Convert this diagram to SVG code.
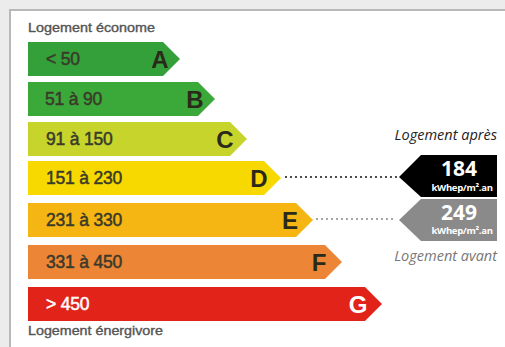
<svg xmlns="http://www.w3.org/2000/svg" width="505" height="347" viewBox="0 0 505 347">
<defs>
<style>
.lbl{font-family:"Liberation Sans",Arial,sans-serif;font-size:17.5px;fill:#3a3a2a;stroke:#3a3a2a;stroke-width:0.5px;letter-spacing:-0.2px}
.let{font-family:"Liberation Sans",Arial,sans-serif;font-size:24px;font-weight:bold;fill:#2a2a1a;text-anchor:middle}
.hdr{font-family:"Liberation Sans",Arial,sans-serif;font-size:12px;fill:#555;stroke:#555;stroke-width:0.35px}
.cap{font-family:"Open Sans","Noto Sans",sans-serif;font-size:14.5px;font-style:italic;text-anchor:end}
.num{font-family:"Open Sans","Noto Sans",sans-serif;font-size:21px;font-weight:bold;fill:#fff;text-anchor:middle}
.unit{font-family:"Open Sans","Noto Sans",sans-serif;font-size:9.5px;font-weight:bold;fill:#fff;text-anchor:middle;letter-spacing:-0.3px}
</style>
</defs>
<rect x="0" y="0" width="505" height="347" fill="#ececec"/>
<rect x="10" y="10" width="500" height="342" fill="#fff" stroke="#b8b8b8" stroke-width="2"/>
<text class="hdr" x="28" y="32" textLength="127" lengthAdjust="spacingAndGlyphs">Logement économe</text>
<text class="hdr" x="28" y="335" textLength="135" lengthAdjust="spacingAndGlyphs">Logement énergivore</text>

<g id="bar-A"><polygon points="28,42 163,42 180,59 163,76 28,76" fill="#34a03a"/><text class="lbl" x="46" y="65">&lt; 50</text><text class="let" x="160" y="68">A</text></g>
<g id="bar-B"><polygon points="28,82 198,82 215,99 198,116 28,116" fill="#3ba83a"/><text class="lbl" x="45" y="105">51 à 90</text><text class="let" x="195" y="108">B</text></g>
<g id="bar-C"><polygon points="28,122 230,122 247,139 230,156 28,156" fill="#c6d42c"/><text class="lbl" x="46" y="145">91 à 150</text><text class="let" x="225" y="148">C</text></g>
<g id="bar-D"><polygon points="28,161 264,161 281,178 264,195 28,195" fill="#f7d900"/><text class="lbl" x="46" y="184">151 à 230</text><text class="let" x="259" y="187">D</text></g>
<g id="bar-E"><polygon points="28,203 296,203 313,220 296,237 28,237" fill="#f5b512"/><text class="lbl" x="46" y="226">231 à 330</text><text class="let" x="290" y="229">E</text></g>
<g id="bar-F"><polygon points="28,245 325,245 342,262 325,279 28,279" fill="#ec8636"/><text class="lbl" x="46" y="268">331 à 450</text><text class="let" x="319" y="271">F</text></g>
<g id="bar-G"><polygon points="28,287 365,287 382,304 365,321 28,321" fill="#e2231a"/><text class="lbl" x="46" y="310" style="fill:#fff;stroke:#fff">&gt; 450</text><text class="let" x="358" y="313" style="fill:#fff">G</text></g>

<g id="connectors">
<line x1="286" y1="177" x2="397" y2="177" stroke="#111" stroke-width="2" stroke-linecap="round" stroke-dasharray="0 5"/>
<line x1="317" y1="219" x2="397" y2="219" stroke="#888" stroke-width="2" stroke-linecap="round" stroke-dasharray="0 5"/>
</g>

<g id="apres">
<text class="cap" x="497" y="140" fill="#222">Logement après</text>
<polygon points="399,177 421,155 497,155 497,197 421,197" fill="#000"/>
<text class="num" x="459" y="176">184</text>
<text class="unit" x="462" y="191">kWhep/m².an</text>
</g>
<g id="avant">
<polygon points="399,220 421,199 497,199 497,241 421,241" fill="#8a8a8a"/>
<text class="num" x="459" y="220">249</text>
<text class="unit" x="462" y="234">kWhep/m².an</text>
<text class="cap" x="497" y="261" fill="#777">Logement avant</text>
</g>
</svg>
